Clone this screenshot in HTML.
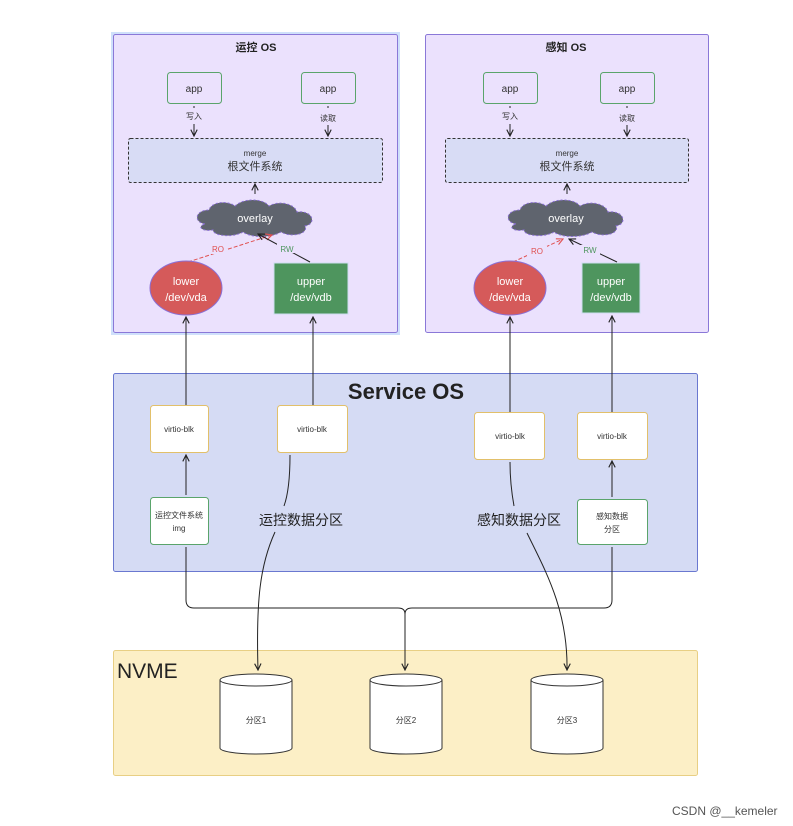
<!DOCTYPE html>
<html><head><meta charset="utf-8"><style>
body{margin:0;background:#fff}
svg{display:block;font-family:"Liberation Sans","Noto Sans CJK SC",sans-serif}
</style></head><body>
<svg width="793" height="826" viewBox="0 0 793 826" xmlns="http://www.w3.org/2000/svg">
<defs>
<marker id="a" viewBox="0 0 10 10" refX="9" refY="5" markerWidth="8" markerHeight="8" orient="auto-start-reverse"><path d="M1,1 L9,5 L1,9" fill="none" stroke="#222" stroke-width="1.4"/></marker>
<marker id="r" viewBox="0 0 10 10" refX="9" refY="5" markerWidth="8" markerHeight="8" orient="auto"><path d="M1,1 L9,5 L1,9" fill="none" stroke="#e05050" stroke-width="1.4"/></marker>
<g id="cloud"><path d="M-50,6 C-62,4 -60,-8 -46,-8 C-44,-16 -28,-18 -20,-12 C-12,-20 8,-20 14,-12 C24,-18 40,-14 42,-6 C58,-8 62,6 50,8 C54,16 36,20 26,14 C16,20 -4,20 -12,14 C-22,20 -42,18 -42,12 C-54,14 -58,8 -50,6 Z" fill="#5f646e" stroke="#8a6fd6" stroke-width="1" stroke-dasharray="2 2"/></g>
</defs>
<rect x="111" y="32" width="289" height="303" fill="#cfe0fb"/>
<rect x="113.5" y="34.5" width="284" height="298" rx="2" fill="#ebe1fd" stroke="#8a78d8"/>
<rect x="425.5" y="34.5" width="283" height="298" rx="2" fill="#ebe1fd" stroke="#8a78d8"/>
<text x="256" y="51" font-size="11" font-weight="bold" text-anchor="middle" fill="#222">运控 OS</text>
<text x="566" y="51" font-size="11" font-weight="bold" text-anchor="middle" fill="#222">感知 OS</text>
<g font-size="10" text-anchor="middle" fill="#333">
<rect x="167.5" y="72.5" width="54" height="31" rx="3" fill="#ebe1fd" stroke="#5aa46b"/><text x="194" y="92">app</text>
<rect x="301.5" y="72.5" width="54" height="31" rx="3" fill="#ebe1fd" stroke="#5aa46b"/><text x="328" y="92">app</text>
<rect x="483.5" y="72.5" width="54" height="31" rx="3" fill="#ebe1fd" stroke="#5aa46b"/><text x="510" y="92">app</text>
<rect x="600.5" y="72.5" width="54" height="31" rx="3" fill="#ebe1fd" stroke="#5aa46b"/><text x="627" y="92">app</text>
</g>
<g font-size="8" text-anchor="middle" fill="#333">
<text x="194" y="119">写入</text><text x="328" y="121">读取</text>
<text x="510" y="119">写入</text><text x="627" y="121">读取</text>
</g>
<g stroke="#222" stroke-width="1" fill="none">
<line x1="194" y1="106" x2="194" y2="108"/><line x1="194" y1="124" x2="194" y2="136" marker-end="url(#a)"/>
<line x1="328" y1="106" x2="328" y2="108"/><line x1="328" y1="125" x2="328" y2="136" marker-end="url(#a)"/>
<line x1="510" y1="106" x2="510" y2="108"/><line x1="510" y1="124" x2="510" y2="136" marker-end="url(#a)"/>
<line x1="627" y1="106" x2="627" y2="108"/><line x1="627" y1="125" x2="627" y2="136" marker-end="url(#a)"/>
</g>
<rect x="128.5" y="138.5" width="254" height="44" rx="2" fill="#d8dcf5" stroke="#333" stroke-dasharray="3 2"/>
<rect x="445.5" y="138.5" width="243" height="44" rx="2" fill="#d8dcf5" stroke="#333" stroke-dasharray="3 2"/>
<g text-anchor="middle" fill="#333">
<text x="255" y="156" font-size="8">merge</text><text x="255" y="170" font-size="11">根文件系统</text>
<text x="567" y="156" font-size="8">merge</text><text x="567" y="170" font-size="11">根文件系统</text>
</g>
<g stroke="#222" stroke-width="1"><line x1="255" y1="194" x2="255" y2="184" marker-end="url(#a)"/><line x1="567" y1="194" x2="567" y2="184" marker-end="url(#a)"/></g>
<use href="#cloud" x="255" y="218"/><use href="#cloud" x="566" y="218"/>
<text x="255" y="222" font-size="11" text-anchor="middle" fill="#fff">overlay</text>
<text x="566" y="222" font-size="11" text-anchor="middle" fill="#fff">overlay</text>
<g fill="none">
<path d="M188,262 L272,235" stroke="#e05050" stroke-dasharray="4 2" marker-end="url(#r)"/>
<path d="M310,262 L258,234" stroke="#222" marker-end="url(#a)"/>
<path d="M513,262 L563,239" stroke="#e05050" stroke-dasharray="4 2" marker-end="url(#r)"/>
<path d="M617,262 L569,239" stroke="#222" marker-end="url(#a)"/>
</g>
<rect x="207" y="244" width="20" height="10" fill="#ebe1fd"/><text x="218" y="252" font-size="8" fill="#e05050" text-anchor="middle">RO</text>
<rect x="277" y="243" width="20" height="10" fill="#ebe1fd"/><text x="287" y="252" font-size="8" fill="#4e955e" text-anchor="middle">RW</text>
<rect x="527" y="246" width="20" height="10" fill="#ebe1fd"/><text x="537" y="254" font-size="8" fill="#e05050" text-anchor="middle">RO</text>
<rect x="580" y="245" width="20" height="10" fill="#ebe1fd"/><text x="590" y="253" font-size="8" fill="#4e955e" text-anchor="middle">RW</text>
<ellipse cx="186" cy="288" rx="36" ry="27" fill="#d55a5a" stroke="#8a6fd6"/>
<ellipse cx="510" cy="288" rx="36" ry="27" fill="#d55a5a" stroke="#8a6fd6"/>
<rect x="274" y="263" width="74" height="51" fill="#4e955e" stroke="#cde"/>
<rect x="582" y="263" width="58" height="50" fill="#4e955e" stroke="#cde"/>
<g font-size="11" fill="#fff" text-anchor="middle">
<text x="186" y="285">lower</text><text x="186" y="301">/dev/vda</text>
<text x="311" y="285">upper</text><text x="311" y="301">/dev/vdb</text>
<text x="510" y="285">lower</text><text x="510" y="301">/dev/vda</text>
<text x="611" y="285">upper</text><text x="611" y="301">/dev/vdb</text>
</g>
<rect x="113.5" y="373.5" width="584" height="198" rx="2" fill="#d5dbf4" stroke="#6a78d0"/>
<text x="406" y="399" font-size="22" font-weight="bold" text-anchor="middle" fill="#222">Service OS</text>
<rect x="113.5" y="650.5" width="584" height="125" rx="2" fill="#fcefc6" stroke="#e8cf84"/>
<text x="117" y="678" font-size="21" fill="#222">NVME</text>
<g stroke="#222" stroke-width="1" fill="none">
<line x1="186" y1="405" x2="186" y2="317" marker-end="url(#a)"/>
<line x1="313" y1="405" x2="313" y2="317" marker-end="url(#a)"/>
<line x1="510" y1="412" x2="510" y2="317" marker-end="url(#a)"/>
<line x1="612" y1="412" x2="612" y2="316" marker-end="url(#a)"/>
<line x1="186" y1="495" x2="186" y2="455" marker-end="url(#a)"/>
<line x1="612" y1="497" x2="612" y2="461" marker-end="url(#a)"/>
<path d="M186,547 L186,600 Q186,608 194,608 L398,608 Q405,608 405,614 Q405,608 412,608 L604,608 Q612,608 612,600 L612,547"/>
<line x1="405" y1="614" x2="405" y2="670" marker-end="url(#a)"/>
<path d="M290,455 C290,480 288,495 284,506"/>
<path d="M275,532 C260,565 256,600 258,670" marker-end="url(#a)"/>
<path d="M510,462 C510,480 512,495 514,506"/>
<path d="M527,533 C545,570 568,610 567,670" marker-end="url(#a)"/>
</g>
<g font-size="8" text-anchor="middle" fill="#333">
<rect x="150.5" y="405.5" width="58" height="47" rx="3" fill="#fff" stroke="#e2c06a"/><text x="179" y="432">virtio-blk</text>
<rect x="277.5" y="405.5" width="70" height="47" rx="3" fill="#fff" stroke="#e2c06a"/><text x="312" y="432">virtio-blk</text>
<rect x="474.5" y="412.5" width="70" height="47" rx="3" fill="#fff" stroke="#e2c06a"/><text x="510" y="439">virtio-blk</text>
<rect x="577.5" y="412.5" width="70" height="47" rx="3" fill="#fff" stroke="#e2c06a"/><text x="612" y="439">virtio-blk</text>
<rect x="150.5" y="497.5" width="58" height="47" rx="3" fill="#fff" stroke="#5aa46b"/><text x="179" y="518">运控文件系统</text><text x="179" y="531">img</text>
<rect x="577.5" y="499.5" width="70" height="45" rx="3" fill="#fff" stroke="#5aa46b"/><text x="612" y="519">感知数据</text><text x="612" y="532">分区</text>
</g>
<text x="301" y="525" font-size="14" text-anchor="middle" fill="#222">运控数据分区</text>
<text x="519" y="525" font-size="14" text-anchor="middle" fill="#222">感知数据分区</text>
<g stroke="#333" fill="#fff">
<path d="M220,680 L220,748 A36,6 0 0 0 292,748 L292,680"/><ellipse cx="256" cy="680" rx="36" ry="6"/>
<path d="M370,680 L370,748 A36,6 0 0 0 442,748 L442,680"/><ellipse cx="406" cy="680" rx="36" ry="6"/>
<path d="M531,680 L531,748 A36,6 0 0 0 603,748 L603,680"/><ellipse cx="567" cy="680" rx="36" ry="6"/>
</g>
<g font-size="8" text-anchor="middle" fill="#333">
<text x="256" y="723">分区1</text><text x="406" y="723">分区2</text><text x="567" y="723">分区3</text>
</g>
<text x="672" y="815" font-size="12" fill="#555">CSDN @__kemeler</text>
</svg>
</body></html>
